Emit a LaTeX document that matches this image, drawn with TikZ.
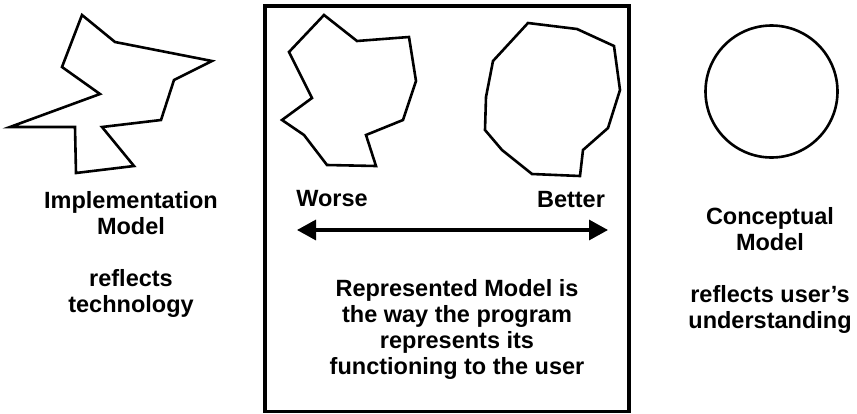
\documentclass[tikz,border=0pt]{standalone}
\usepackage{fontspec}
\setmainfont{Liberation Sans}
\usetikzlibrary{arrows.meta}
\tikzset{
  shape line/.style={line width=2.6pt, line join=miter, black},
  frame line/.style={line width=3.8pt},
  label text/.style={font=\fontsize{23.5}{26}\selectfont\bfseries, align=center, inner sep=0pt, anchor=base},
  scale arrow/.style={line width=3.2pt, {Triangle[length=19pt,width=20pt]}-{Triangle[length=19pt,width=20pt]}}
}
\begin{document}
\begin{tikzpicture}[x=1pt,y=-1pt]
\useasboundingbox (0,0) rectangle (857,413);
% implementation model shape
\draw[shape line] (82,15) -- (115,42) -- (212,61) -- (174,80) -- (161,120) -- (102,127) -- (134,166) -- (76,173) -- (75,127) -- (10,127) -- (100,94) -- (62,67) -- cycle;
% represented model frame
\draw[frame line] (265,6) rectangle (629,411.5);
% worse shape
\draw[shape line] (324,15) -- (357,41) -- (409,37) -- (416,81) -- (403,120) -- (366,135) -- (376,166) -- (327,165) -- (304,135) -- (282,120) -- (312,98) -- (289,52) -- cycle;
% better shape
\draw[shape line] (528,23) -- (577,29) -- (614,46) -- (620,90) -- (608,128) -- (583,150) -- (580,176) -- (532,174) -- (502,150) -- (485,130) -- (486,97) -- (493,61) -- cycle;
% conceptual model circle
\draw[shape line] (771.5,91.5) circle[radius=66];
% texts (multi-line nodes: base anchor is the last line's baseline)
\node[label text] (impl) at (131,312.5) {Implementation\\Model\\[26pt]reflects\\technology};
\node[label text] (worse) at (332,206) {Worse};
\node[label text] (better) at (571,207) {Better};
\node[label text] (repr) at (457,374) {Represented Model is\\the way the program\\represents its\\functioning to the user};
\node[label text] (conc) at (770,328) {Conceptual\\Model\\[26pt]reflects user’s\\understanding};
% worse-better scale
\coordinate (wl) at (297,230);
\coordinate (wr) at (608,230);
\draw[scale arrow] (wl) -- (wr);
\end{tikzpicture}
\end{document}
